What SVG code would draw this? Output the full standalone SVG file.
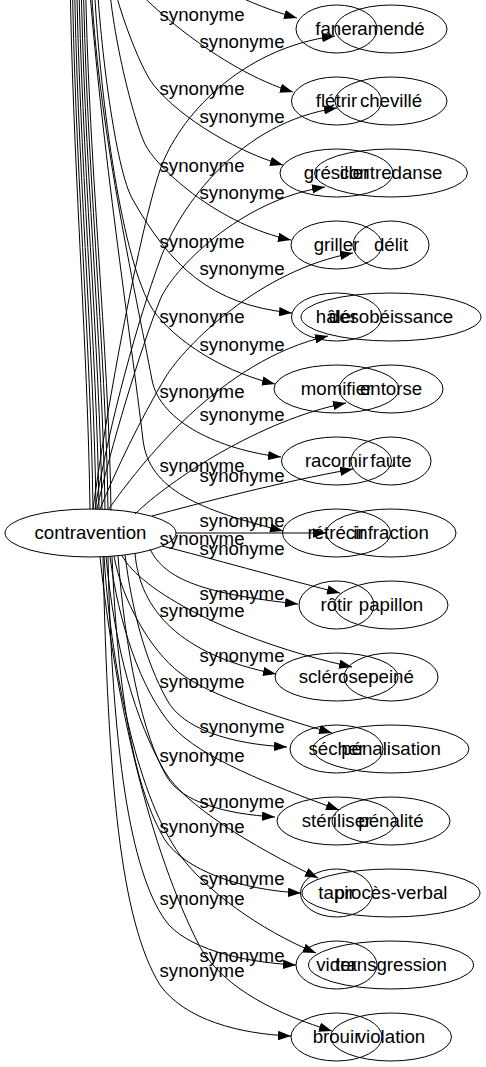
<svg xmlns="http://www.w3.org/2000/svg" width="486" height="1067" viewBox="0 0 486 1067">
<style>
text{font-family:"Liberation Sans",Arial,sans-serif;font-size:18.67px;fill:#000;text-anchor:middle}
.n ellipse{fill:none;stroke:#000;stroke-width:1}
#edges path{fill:none;stroke:#000;stroke-width:1;marker-end:url(#arr)}
</style>
<defs>
<marker id="arr" viewBox="0 0 13 9.4" refX="13" refY="4.7" markerWidth="13" markerHeight="9.4" orient="auto" markerUnits="userSpaceOnUse"><path d="M0,0 L13,4.7 L0,9.4 z" fill="#000"/></marker>
</defs>
<rect width="486" height="1067" fill="#fff"/>
<g id="edges">
<path d="M90,509.5 C88,350 72,150 70,-30 L160,-60 C195,-20 250,5 297,18"/>
<path d="M93,509.5 C91,350 74.2,150 72.2,-30 L115,-35 C140,0 220,70 293,92"/>
<path d="M96,509.5 C94,350 76.4,150 74.4,-30 L108,-40 C115,0 135,55 150,80 C170,110 230,150 283,165"/>
<path d="M99,509.5 C97,350 78.6,150 76.6,-30 L108,-30 C112,40 136,128 146,146 C160,171 220,225 291,240"/>
<path d="M102,509.5 C100,350 80.8,150 78.8,-30 L97,-20 C100,40 115,170 133,200 C170,265 210,305 292,313"/>
<path d="M105,510 C103,350 83,150 81,-30 L94,-20 C99,90 120,250 150,305 C165,332 215,370 275,384"/>
<path d="M108,510 C106,350 85.2,150 83.2,-30 L91,-20 C97,120 135,290 152,380 C160,422 220,450 281,457"/>
<path d="M111,510.5 C109,350 87.4,150 85.4,-30 L89,-20 C102,150 130,330 143,440 C149,490 200,510 283,531"/>
<path d="M93,509 C108,400 140,230 160,170 C178,118 240,48 335,36"/>
<path d="M95,509 C110,420 138,320 160,260 C180,205 240,122 337,108"/>
<path d="M97,509 C110,450 140,350 160,300 C172,270 240,200 325,187"/>
<path d="M100,509 C116,470 140,420 165,378 C185,345 260,270 353,253"/>
<path d="M108,510 C140,465 220,360 328,336"/>
<path d="M135,514 C170,480 260,420 346,403"/>
<path d="M152,516 C200,503 280,482 353,469"/>
<path d="M176,533 L326,533"/>
<path d="M162,546 C210,558 280,578 340,593"/>
<path d="M150,549 C165,580 205,594 298,604"/>
<path d="M135,553.5 C140,610 180,655 276,674"/>
<path d="M122,555.5 C140,590 230,640 352,667"/>
<path d="M125,555 C132,610 145,660 167,700 C183,729 230,744 287,747"/>
<path d="M114,556 C122,600 150,650 180,673 C210,696 280,718 332,733"/>
<path d="M118,556 C125,650 142,735 167,777 C182,802 225,814 275,817"/>
<path d="M110,556.5 C118,620 140,690 173,727 C200,757 270,785 339,810"/>
<path d="M112,556.5 C118,700 135,790 165,840 C185,870 240,890 301,893"/>
<path d="M106,556.5 C115,650 135,720 165,772 C185,805 250,845 318,878"/>
<path d="M108,556.5 C112,750 130,870 165,920 C185,948 240,962 296,965"/>
<path d="M104,556.5 C112,680 140,800 180,855 C205,890 260,930 316,953"/>
<path d="M103,556.5 C108,780 120,920 160,985 C185,1020 240,1034 291,1036"/>
<path d="M100,556.5 C115,700 150,850 200,947 C225,990 280,1015 332,1031"/>
</g>
<g id="labels">
<text x="202" y="20.7">synonyme</text>
<text x="202" y="95">synonyme</text>
<text x="202" y="171.5">synonyme</text>
<text x="202" y="247.5">synonyme</text>
<text x="202" y="323">synonyme</text>
<text x="202" y="397.5">synonyme</text>
<text x="202" y="471.5">synonyme</text>
<text x="202" y="544.5">synonyme</text>
<text x="202" y="616.7">synonyme</text>
<text x="202" y="688.3">synonyme</text>
<text x="202" y="761.7">synonyme</text>
<text x="202" y="833.3">synonyme</text>
<text x="202" y="905">synonyme</text>
<text x="202" y="976.7">synonyme</text>
<text x="242" y="48.3">synonyme</text>
<text x="242" y="123.3">synonyme</text>
<text x="242" y="199">synonyme</text>
<text x="242" y="275">synonyme</text>
<text x="242" y="351">synonyme</text>
<text x="242" y="421">synonyme</text>
<text x="242" y="481.7">synonyme</text>
<text x="242" y="526.7">synonyme</text>
<text x="242" y="555">synonyme</text>
<text x="242" y="600">synonyme</text>
<text x="242" y="661.7">synonyme</text>
<text x="242" y="733.3">synonyme</text>
<text x="242" y="808.3">synonyme</text>
<text x="242" y="885">synonyme</text>
<text x="242" y="961.7">synonyme</text>
</g>
<g id="contravention" class="n"><ellipse cx="90.5" cy="533" rx="85.5" ry="24"/><text x="90.5" y="539">contravention</text></g>
<g id="faner" class="n"><ellipse cx="336.5" cy="29" rx="40.5" ry="24"/><text x="336.5" y="35">faner</text></g>
<g id="fletrir" class="n"><ellipse cx="336.5" cy="101" rx="45" ry="24"/><text x="336.5" y="107">flétrir</text></g>
<g id="gresiller" class="n"><ellipse cx="336.5" cy="173" rx="56.5" ry="24"/><text x="336.5" y="179">grésiller</text></g>
<g id="griller" class="n"><ellipse cx="336.5" cy="245" rx="45.5" ry="24"/><text x="336.5" y="251">griller</text></g>
<g id="haler" class="n"><ellipse cx="336.5" cy="317" rx="45" ry="24"/><text x="336.5" y="323">hâler</text></g>
<g id="momifier" class="n"><ellipse cx="336.5" cy="389" rx="62.5" ry="24"/><text x="336.5" y="395">momifier</text></g>
<g id="racornir" class="n"><ellipse cx="336.5" cy="461" rx="55" ry="24"/><text x="336.5" y="467">racornir</text></g>
<g id="retrecir" class="n"><ellipse cx="336.5" cy="533" rx="54" ry="24"/><text x="336.5" y="539">rétrécir</text></g>
<g id="rotir" class="n"><ellipse cx="336.5" cy="605" rx="37.5" ry="24"/><text x="336.5" y="611">rôtir</text></g>
<g id="scleroser" class="n"><ellipse cx="336.5" cy="677" rx="61.5" ry="24"/><text x="336.5" y="683">scléroser</text></g>
<g id="secher" class="n"><ellipse cx="336.5" cy="749" rx="46.5" ry="24"/><text x="336.5" y="755">sécher</text></g>
<g id="steriliser" class="n"><ellipse cx="336.5" cy="821" rx="59.5" ry="24"/><text x="336.5" y="827">stériliser</text></g>
<g id="tapir" class="n"><ellipse cx="336.5" cy="893" rx="36" ry="24"/><text x="336.5" y="899">tapir</text></g>
<g id="vider" class="n"><ellipse cx="336.5" cy="965" rx="40.5" ry="24"/><text x="336.5" y="971">vider</text></g>
<g id="brouir" class="n"><ellipse cx="336.5" cy="1037" rx="45.5" ry="24"/><text x="336.5" y="1043">brouir</text></g>
<g id="amende" class="n"><ellipse cx="391" cy="29" rx="56" ry="24"/><text x="391" y="35">amendé</text></g>
<g id="cheville" class="n"><ellipse cx="391" cy="101" rx="56" ry="24"/><text x="391" y="107">chevillé</text></g>
<g id="contredanse" class="n"><ellipse cx="391" cy="173" rx="76.5" ry="24"/><text x="391" y="179">contredanse</text></g>
<g id="delit" class="n"><ellipse cx="391" cy="245" rx="38" ry="24"/><text x="391" y="251">délit</text></g>
<g id="desobeissance" class="n"><ellipse cx="391" cy="317" rx="90" ry="24"/><text x="391" y="323">désobéissance</text></g>
<g id="entorse" class="n"><ellipse cx="391" cy="389" rx="52" ry="24"/><text x="391" y="395">entorse</text></g>
<g id="faute" class="n"><ellipse cx="391" cy="461" rx="40" ry="24"/><text x="391" y="467">faute</text></g>
<g id="infraction" class="n"><ellipse cx="391" cy="533" rx="65" ry="24"/><text x="391" y="539">infraction</text></g>
<g id="papillon" class="n"><ellipse cx="391" cy="605" rx="57" ry="24"/><text x="391" y="611">papillon</text></g>
<g id="peine" class="n"><ellipse cx="391" cy="677" rx="47" ry="24"/><text x="391" y="683">peiné</text></g>
<g id="penalisation" class="n"><ellipse cx="391" cy="749" rx="78" ry="24"/><text x="391" y="755">pénalisation</text></g>
<g id="penalite" class="n"><ellipse cx="391" cy="821" rx="59" ry="24"/><text x="391" y="827">pénalité</text></g>
<g id="proces-verbal" class="n"><ellipse cx="391" cy="893" rx="89" ry="24"/><text x="391" y="899">procès-verbal</text></g>
<g id="transgression" class="n"><ellipse cx="391" cy="965" rx="82.5" ry="24"/><text x="391" y="971">transgression</text></g>
<g id="violation" class="n"><ellipse cx="391" cy="1037" rx="60.5" ry="24"/><text x="391" y="1043">violation</text></g>
</svg>
